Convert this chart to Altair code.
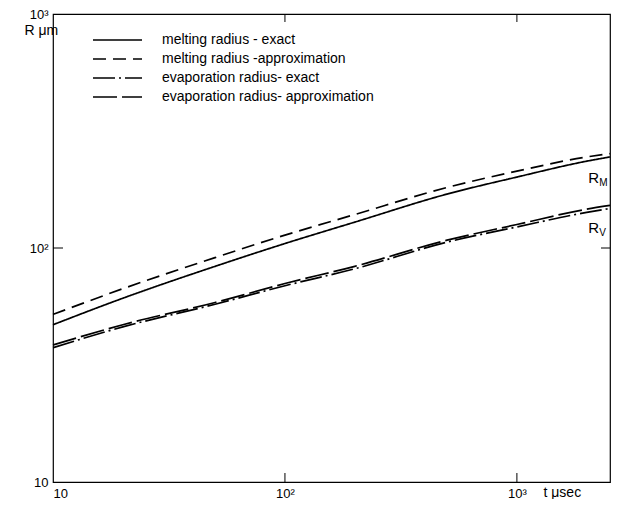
import altair as alt
import pandas as pd

# ---- data ----
t_us = [10, 20, 50, 100, 200, 500, 1000, 2000, 2520]
melt_exact = [47, 61, 83.5, 104.5, 129, 170, 201, 235, 245]
melt_approx = [52, 67, 91, 113.5, 139, 181.5, 213, 245, 253]
evap_exact = [37.5, 46, 57.5, 69, 81.5, 106, 123, 142, 147.5]
evap_approx = [38.5, 47, 58.5, 70.5, 83.5, 108, 126, 146.5, 152]

series_names = [
    "melting radius - exact",
    "melting radius -approximation",
    "evaporation radius- exact",
    "evaporation radius- approximation",
]
axis_ticks = [10, 100, 1000]
axis_tick_labels = ["10", "10²", "10³"]
inner_x_ticks = [100, 1000]
inner_y_ticks = [100]

annot_text = ["R", "R"]
annot_sub = ["M", "V"]
annot_t = [2030, 2030]
annot_r = [200, 121.5]

# ---- build tables ----
rows = []
for name, vals in zip(series_names, [melt_exact, melt_approx, evap_exact, evap_approx]):
    for t, r in zip(t_us, vals):
        rows.append({"t": t, "r": r, "series": name})
df = pd.DataFrame(rows)
leg_df = pd.DataFrame({"series": series_names, "row": list(range(len(series_names)))})
ann_df = pd.DataFrame({"t": annot_t, "r": annot_r, "txt": annot_text, "sub": annot_sub})

W, H = 557, 468
FONT = "Liberation Sans"

label_expr = " : ".join(
    f"datum.value == {v} ? '{l}'" for v, l in zip(axis_ticks[:-1], axis_tick_labels[:-1])
) + f" : '{axis_tick_labels[-1]}'"

xscale = alt.Scale(type="log", domain=[10, 2520], nice=False)
yscale = alt.Scale(type="log", domain=[10, 1000], nice=False)
dash_scale = alt.Scale(domain=series_names, range=[[1, 0], [13, 7], [22, 4, 2, 4], [24, 5]])

lines = alt.Chart(df).mark_line(color="black", strokeWidth=1.7, interpolate="monotone").encode(
    x=alt.X("t:Q", scale=xscale, axis=alt.Axis(
        values=axis_ticks, labelExpr=label_expr, ticks=False, domain=False, grid=False,
        labelFontSize=13, labelPadding=5, labelColor="black",
        title="t μsec", titleAngle=0, titleX=490, titleY=10, titleAlign="left",
        titleBaseline="middle", titleFontSize=14, titleFontWeight="normal", titleColor="black")),
    y=alt.Y("r:Q", scale=yscale, axis=alt.Axis(
        values=axis_ticks, labelExpr=label_expr, ticks=False, domain=False, grid=False,
        labelFontSize=13, labelPadding=5, labelColor="black",
        title="R μm", titleAngle=0, titleX=-29, titleY=16, titleAlign="left",
        titleBaseline="middle", titleFontSize=14, titleFontWeight="normal", titleColor="black")),
    strokeDash=alt.StrokeDash("series:N", scale=dash_scale, legend=None),
)

tx = pd.DataFrame({"t": inner_x_ticks})
ty = pd.DataFrame({"r": inner_y_ticks})
bottom_ticks = alt.Chart(tx).mark_rule(color="black", strokeWidth=1).encode(
    x=alt.X("t:Q", scale=xscale), y=alt.value(H), y2=alt.value(H - 9))
top_ticks = alt.Chart(tx).mark_rule(color="black", strokeWidth=1).encode(
    x=alt.X("t:Q", scale=xscale), y=alt.value(0), y2=alt.value(8))
left_ticks = alt.Chart(ty).mark_rule(color="black", strokeWidth=1).encode(
    y=alt.Y("r:Q", scale=yscale), x=alt.value(0), x2=alt.value(10))
right_ticks = alt.Chart(ty).mark_rule(color="black", strokeWidth=1).encode(
    y=alt.Y("r:Q", scale=yscale), x=alt.value(W), x2=alt.value(W - 9))

ann_main = alt.Chart(ann_df).mark_text(align="left", baseline="middle", fontSize=15, font=FONT, color="black").encode(
    x=alt.X("t:Q", scale=xscale), y=alt.Y("r:Q", scale=yscale), text="txt:N")
ann_sub = alt.Chart(ann_df).mark_text(align="left", baseline="middle", fontSize=10, font=FONT, color="black", dx=11, dy=5).encode(
    x=alt.X("t:Q", scale=xscale), y=alt.Y("r:Q", scale=yscale), text="sub:N")

leg_y = alt.Y("row:Q", scale=alt.Scale(domain=[0, 3], range=[26, 83]), axis=None)
leg_lines = alt.Chart(leg_df).mark_rule(color="black", strokeWidth=1.7).encode(
    x=alt.value(40), x2=alt.value(89), y=leg_y,
    strokeDash=alt.StrokeDash("series:N", scale=dash_scale, legend=None))
leg_text = alt.Chart(leg_df).mark_text(align="left", baseline="middle", fontSize=14, font=FONT, color="black").encode(
    x=alt.value(109), y=leg_y, text="series:N")

main = alt.layer(lines, bottom_ticks, top_ticks, left_ticks, right_ticks, ann_main, ann_sub)
legend = alt.layer(leg_lines, leg_text)

chart = alt.layer(main, legend).resolve_scale(y="independent").properties(
    width=W, height=H,
    padding={"left": 45, "top": 6, "right": 2, "bottom": 17},
    autosize=alt.AutoSizeParams(type="none"),
    background="white",
).configure_view(stroke="black", strokeWidth=1.2).configure_axis(
    labelFont=FONT, titleFont=FONT)

chart.save("out.html", embed_options={"renderer": "svg", "actions": False})
